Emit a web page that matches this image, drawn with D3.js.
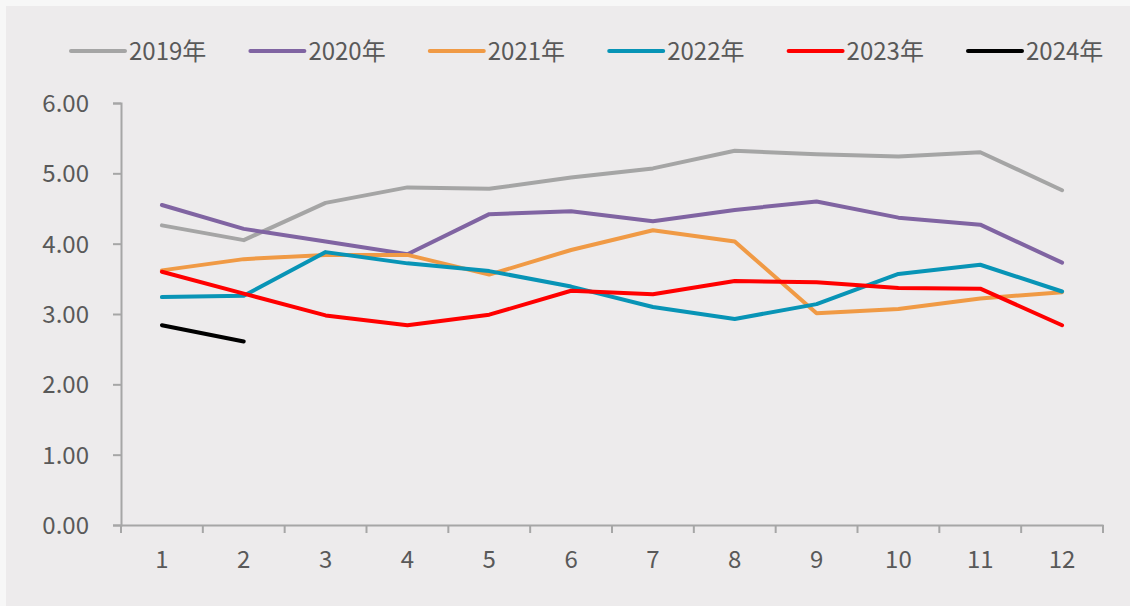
<!DOCTYPE html>
<html>
<head>
<meta charset="utf-8">
<script src="https://cdn.jsdelivr.net/npm/d3@7"></script>
<style>
    html, body { margin: 0; padding: 0; background: #f7f7f7; }
    #chart { width: 1130px; height: 606px; }
    text { font-family: "Noto Sans CJK SC", "Noto Sans", sans-serif; fill: #595959; }
</style>
</head>
<body>
<div id="chart"></div>
<script>
const months = ['1', '2', '3', '4', '5', '6', '7', '8', '9', '10', '11', '12'];
const yTicks = [0, 1, 2, 3, 4, 5, 6];

const seriesNames = ['2019年', '2020年', '2021年', '2022年', '2023年', '2024年'];
const seriesColors = ['#a5a5a5', '#8064a2', '#f09a45', '#0894b6', '#ff0000', '#000000'];

const v2019 = [4.26, 4.05, 4.58, 4.80, 4.78, 4.94, 5.07, 5.32, 5.27, 5.24, 5.30, 4.76];
const v2020 = [4.55, 4.21, 4.03, 3.85, 4.42, 4.46, 4.32, 4.48, 4.60, 4.37, 4.27, 3.73];
const v2021 = [3.62, 3.78, 3.84, 3.84, 3.56, 3.91, 4.19, 4.03, 3.01, 3.07, 3.22, 3.31];
const v2022 = [3.24, 3.26, 3.88, 3.72, 3.61, 3.39, 3.10, 2.93, 3.14, 3.57, 3.70, 3.32];
const v2023 = [3.60, 3.29, 2.98, 2.84, 2.99, 3.33, 3.28, 3.47, 3.45, 3.37, 3.36, 2.84];
const v2024 = [2.84, 2.61];

const width = 1130;
const height = 606;
const plot = { left: 121, right: 1103, top: 103, bottom: 525 };

const init = () => {
    const series = [v2019, v2020, v2021, v2022, v2023, v2024].map((vals, i) => ({
        name: seriesNames[i],
        color: seriesColors[i],
        values: vals.map((v, j) => ({ m: months[j], v })),
    }));

    const svg = d3
        .select('#chart')
        .append('svg')
        .attr('width', width)
        .attr('height', height);

    // chart background
    svg.append('rect')
        .attr('x', 6)
        .attr('y', 6)
        .attr('width', width - 6)
        .attr('height', height - 6)
        .attr('fill', '#edebec');

    const x = d3.scaleBand().domain(months).range([plot.left, plot.right]);
    const y = d3.scaleLinear().domain([0, 6]).range([plot.bottom, plot.top]);

    // y axis
    const yAxis = svg.append('g')
        .attr('transform', `translate(${plot.left},0)`)
        .call(d3.axisLeft(y).tickValues(yTicks).tickSize(8).tickPadding(24).tickFormat(d3.format('.2f')));
    yAxis.select('.domain').attr('stroke', '#a6a6a6').attr('stroke-width', 2);
    yAxis.selectAll('.tick line').attr('stroke', '#a6a6a6').attr('stroke-width', 2);
    yAxis.selectAll('.tick text').style('font-size', '24px').attr('fill', '#595959').attr('dy', '0.36em');

    // x axis
    const xAxis = svg.append('g')
        .attr('transform', `translate(0,${plot.bottom})`)
        .call(d3.axisBottom(x).tickSize(0).tickPadding(0));
    xAxis.select('.domain').attr('stroke', '#a6a6a6').attr('stroke-width', 2);
    xAxis.selectAll('.tick text').style('font-size', '24px').attr('fill', '#595959').attr('y', 43).attr('dy', 0);

    // category separators
    const bounds = months.map(m => x(m)).concat([plot.right]);
    svg.append('g')
        .selectAll('line')
        .data(bounds)
        .join('line')
        .attr('x1', d => d)
        .attr('x2', d => d)
        .attr('y1', plot.bottom)
        .attr('y2', plot.bottom + 8)
        .attr('stroke', '#a6a6a6')
        .attr('stroke-width', 2);

    // lines
    const line = d3.line()
        .x(d => x(d.m) + x.bandwidth() / 2)
        .y(d => y(d.v));

    svg.append('g')
        .attr('fill', 'none')
        .selectAll('path')
        .data(series)
        .join('path')
        .attr('d', d => line(d.values))
        .attr('stroke', d => d.color)
        .attr('stroke-width', 4)
        .attr('stroke-linejoin', 'round')
        .attr('stroke-linecap', 'round');

    // legend
    const legend = svg.append('g')
        .selectAll('g')
        .data(series)
        .join('g')
        .attr('transform', (d, i) => `translate(${71 + i * 179.4},51)`);
    legend.append('line')
        .attr('x1', 0)
        .attr('x2', 54)
        .attr('stroke', d => d.color)
        .attr('stroke-width', 4)
        .attr('stroke-linecap', 'round');
    legend.append('text')
        .attr('x', 58)
        .attr('dy', '0.36em')
        .style('font-size', '24px')
        .text(d => d.name);
};

init();
</script>
</body>
</html>
